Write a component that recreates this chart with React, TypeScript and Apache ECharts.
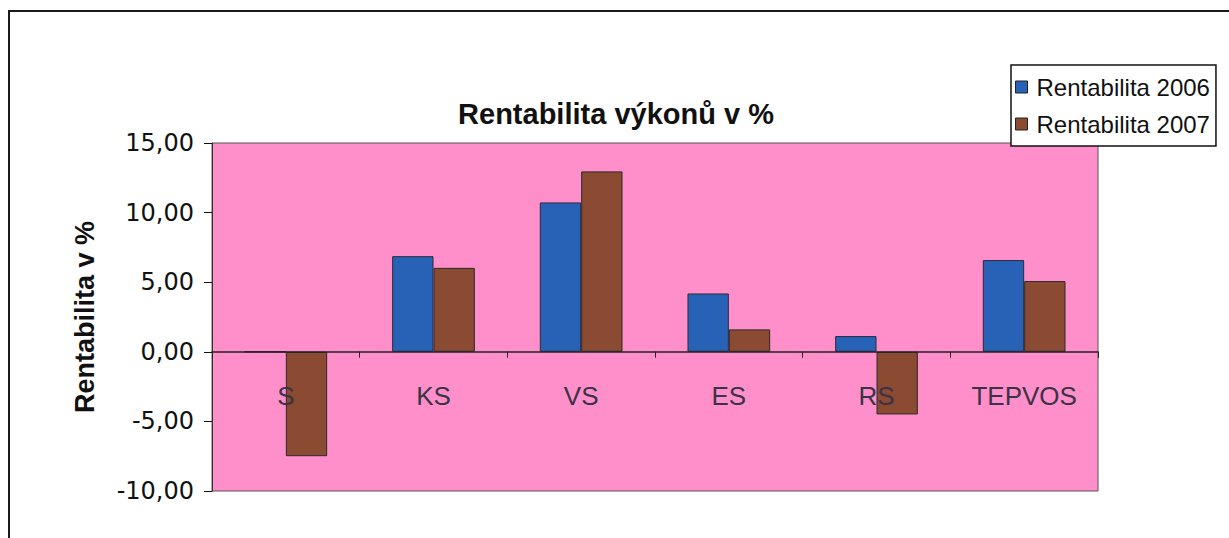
import React, { useEffect, useRef } from "react";
import * as echarts from "echarts";

const categories = ["S", "KS", "VS", "ES", "RS", "TEPVOS"];
const seriesNames = ["Rentabilita 2006", "Rentabilita 2007"];
const values2006 = [0, 6.87, 10.73, 4.19, 1.13, 6.59];
const values2007 = [-7.5, 6.03, 12.96, 1.61, -4.5, 5.08];
const yMin = -10;
const yMax = 15;
const yInterval = 5;

export default function App() {
  const ref = useRef<HTMLDivElement>(null);
  useEffect(() => {
    if (!ref.current) return;
    const chart = echarts.init(ref.current, null, { renderer: "svg" });
    chart.setOption({
      animation: false,
      backgroundColor: "#ffffff",
      title: {
        text: "Rentabilita výkonů v %",
        left: 611,
        top: 94,
        textAlign: "center",
        textStyle: {
          fontFamily: "Liberation Sans, Arial, sans-serif",
          fontWeight: "bold",
          fontSize: 29,
          color: "#111",
        },
      },
      legend: {
        orient: "vertical",
        left: 1011,
        top: 65,
        padding: [10, 6, 10, 4],
        itemGap: 13,
        itemWidth: 12,
        itemHeight: 12,
        icon: "rect",
        borderColor: "#111",
        borderWidth: 1.5,
        backgroundColor: "#fff",
        textStyle: {
          fontFamily: "Liberation Sans, Arial, sans-serif",
          fontSize: 24,
          color: "#111",
          padding: [0, 0, 0, 4],
        },
        itemStyle: { borderColor: "#222", borderWidth: 1 },
        data: seriesNames,
      },
      grid: {
        left: 212,
        right: 131,
        top: 143,
        bottom: 47,
        show: true,
        backgroundColor: "#FF8FCA",
        borderColor: "#555",
        borderWidth: 1,
        containLabel: false,
      },
      xAxis: {
        type: "category",
        data: categories,
        axisLine: { onZero: true, lineStyle: { color: "#222", width: 1.5 } },
        axisTick: { show: true, length: 6, lineStyle: { color: "#222" } },
        axisLabel: {
          margin: -108,
          fontFamily: "Liberation Sans, Arial, sans-serif",
          fontSize: 26,
          color: "#3a3344",
        },
        splitLine: { show: false },
        z: 3,
      },
      yAxis: {
        type: "value",
        min: yMin,
        max: yMax,
        interval: yInterval,
        name: "Rentabilita v %",
        nameLocation: "middle",
        nameGap: 114,
        nameRotate: 90,
        nameTextStyle: {
          fontFamily: "Liberation Sans, Arial, sans-serif",
          fontWeight: "bold",
          fontSize: 27,
          color: "#111",
        },
        axisLine: { show: true, lineStyle: { color: "#333", width: 1 } },
        axisTick: { show: true, inside: false, length: 8, lineStyle: { color: "#111" } },
        axisLabel: {
          margin: 18,
          fontFamily: "DejaVu Sans, sans-serif",
          fontSize: 24,
          color: "#111",
          formatter: (v: number) => v.toFixed(2).replace(".", ","),
        },
        splitLine: { show: false },
      },
      series: [
        {
          name: seriesNames[0],
          type: "bar",
          data: values2006,
          barGap: "0%",
          barCategoryGap: "44%",
          itemStyle: { color: "#2862B6", borderColor: "#2a2a3a", borderWidth: 1 },
        },
        {
          name: seriesNames[1],
          type: "bar",
          data: values2007,
          barGap: "0%",
          barCategoryGap: "44%",
          itemStyle: { color: "#8B4A32", borderColor: "#2a2a2a", borderWidth: 1 },
        },
      ],
      graphic: [
        {
          type: "rect",
          shape: { x: 9, y: 11, width: 1240, height: 560 },
          style: { fill: "none", stroke: "#1a1a1a", lineWidth: 2 },
          silent: true,
          z: -1,
        },
      ],
    });
    return () => chart.dispose();
  }, []);
  return (
    <div
      ref={ref}
      style={{ position: "fixed", left: 0, top: 0, width: 1229, height: 538 }}
    />
  );
}
